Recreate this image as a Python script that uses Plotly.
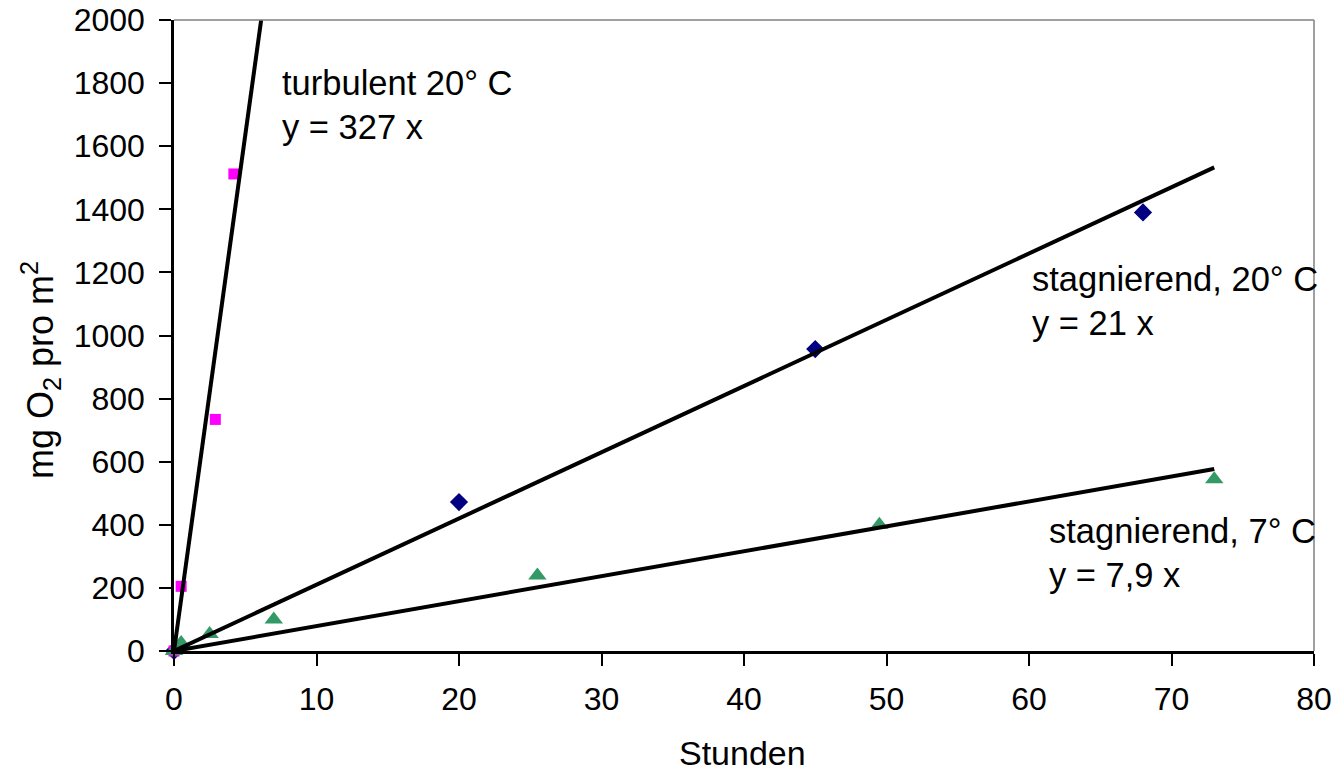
import plotly.graph_objects as go

# Measured data (hours, mg O2 per m2)
turb_x = [0, 0.5, 2.9, 4.2]
turb_y = [0, 205, 734, 1512]

stag20_x = [0, 20, 45, 68]
stag20_y = [0, 472, 957, 1390]

stag7_x = [0, 0.5, 2.5, 7, 25.5, 49.5, 73]
stag7_y = [0, 25, 54, 100, 239, 400, 544]

# Trendline slopes and x extents
slopes = [327, 21, 7.9]
trend_x_end = [2000 / 327, 73, 73]

x_ticks = [0, 10, 20, 30, 40, 50, 60, 70, 80]
y_ticks = [0, 200, 400, 600, 800, 1000, 1200, 1400, 1600, 1800, 2000]

FONT = "Liberation Sans, Arial, sans-serif"

fig = go.Figure()

fig.add_trace(go.Scatter(x=stag20_x, y=stag20_y, mode="markers",
                         marker=dict(symbol="diamond", size=14, color="#000080"),
                         cliponaxis=False, showlegend=False))
fig.add_trace(go.Scatter(x=turb_x, y=turb_y, mode="markers",
                         marker=dict(symbol="square", size=11, color="#FF00FF"),
                         cliponaxis=False, showlegend=False))
fig.add_trace(go.Scatter(x=stag7_x, y=stag7_y, mode="markers",
                         marker=dict(symbol="triangle-up", size=16, color="#339966"),
                         cliponaxis=False, showlegend=False))

for s, xe in zip(slopes, trend_x_end):
    fig.add_trace(go.Scatter(x=[0, xe], y=[0, s * xe], mode="lines",
                             line=dict(color="black", width=4),
                             showlegend=False, hoverinfo="skip"))

labels = [
    (280, 83, "turbulent 20° C"),
    (280, 127, "y = 327 x"),
    (1030, 279, "stagnierend, 20° C"),
    (1030, 323, "y = 21 x"),
    (1047, 531, "stagnierend, 7° C"),
    (1047, 575, "y = 7,9 x"),
]
W, H = 1335, 773
L, R, T, B = 174, 21, 20, 122
pw, ph = W - L - R, H - T - B
for px, py, txt in labels:
    fig.add_annotation(x=(px - L) / pw, y=1 - (py - T) / ph, xref="paper", yref="paper",
                       text=txt, showarrow=False, xanchor="left", yanchor="middle",
                       font=dict(family=FONT, size=34.5, color="black"))

# y axis title
fig.add_annotation(x=(40 - L) / pw, y=1 - (370 - T) / ph, xref="paper", yref="paper",
                   text="mg O<sub>2</sub> pro m<sup>2</sup>", textangle=-90, showarrow=False,
                   xanchor="center", yanchor="middle",
                   font=dict(family=FONT, size=36, color="black"))

# x axis title
fig.add_annotation(x=(742 - L) / pw, y=1 - (753 - T) / ph, xref="paper", yref="paper",
                   text="Stunden", showarrow=False, xanchor="center", yanchor="middle",
                   font=dict(family=FONT, size=34, color="black"))

# plot-area border (gray top and right)
fig.add_shape(type="line", xref="paper", yref="paper", x0=0, x1=1, y0=1, y1=1,
              line=dict(color="#808080", width=1.5))
fig.add_shape(type="line", xref="paper", yref="paper", x0=1, x1=1, y0=0, y1=1,
              line=dict(color="#808080", width=1.5))

fig.update_layout(
    width=W, height=H,
    margin=dict(l=L, r=R, t=T, b=B),
    paper_bgcolor="white", plot_bgcolor="white",
    font=dict(family=FONT, color="black"),
    xaxis=dict(range=[0, 80], tickvals=x_ticks, showgrid=False, zeroline=False,
               showline=True, linecolor="black", linewidth=2.5, automargin=False,
               ticks="outside", ticklen=12, tickwidth=2, tickcolor="black",
               tickfont=dict(size=32), ticklabelstandoff=6),
    yaxis=dict(range=[0, 2000], tickvals=y_ticks, showgrid=False, zeroline=False,
               showline=True, linecolor="black", linewidth=2.5, automargin=False,
               ticks="outside", ticklen=12, tickwidth=2, tickcolor="black",
               tickfont=dict(size=32), ticklabelstandoff=8),
)

fig.write_html("out.html")
